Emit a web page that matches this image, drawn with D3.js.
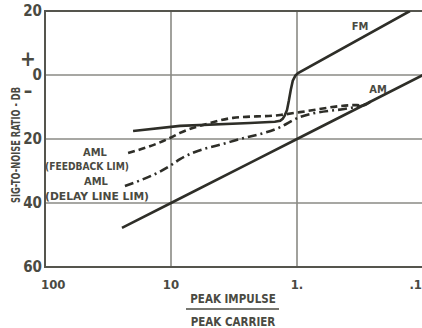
<!DOCTYPE html>
<meta charset="utf-8">
<style>
body { margin: 0; background: #fff; }
text { font-family: "DejaVu Sans Condensed", "Liberation Sans Narrow", sans-serif; font-weight: bold; fill: #4a4a42; }
.grid { stroke: #8a8a84; stroke-width: 1.6px; }
.frame { stroke: #55554e; stroke-width: 2px; fill: none; }
.curve { fill: none; stroke: #2e2e28; stroke-width: 2.6px; }
</style>
<svg width="422" height="328"></svg>
<script src="https://cdn.jsdelivr.net/npm/d3@7"></script>
<script>

// peak impulse / peak carrier (x) vs signal-to-noise dB (y)
var xTicks = [100, 10, 1, 0.1],
    xTickLabels = ["100", "10", "1.", ".1"];
var yTicks = [20, 0, -20, -40, -60],
    yTickLabels = ["20", "0", "20", "40", "60"];

var amRatio = [24.5, 10, 1, 0.1],
    amDb    = [-47.8, -40, -20, 0];

var fmRatio = [20.0, 8.48, 2.36, 1.50, 1.36, 1.30, 1.25, 1.20, 1.16, 1.12, 1.08, 1.03, 0.98, 0.127],
    fmDb    = [-17.5, -15.9, -15.0, -14.6, -14.3, -13.7, -12.6, -10.9, -8.0, -4.6, -1.8, -0.2, 0.6, 20];

var fbRatio = [21.9, 10.2, 8.48, 4.90, 3.22, 1.36, 0.946, 0.334, 0.30, 0.26],
    fbDb    = [-24.4, -19.7, -18.1, -15.0, -13.4, -12.5, -11.6, -9.4, -9.5, -8.3];

var dlRatio = [23.2, 10.2, 8.48, 3.40, 1.36, 0.946, 0.379, 0.30, 0.26],
    dlDb    = [-34.7, -28.4, -26.3, -20.9, -16.3, -13.1, -10.3, -9.5, -8.3];

var svg = d3.select("svg");

var x = d3.scaleLog().domain([100, 0.1]).range([45, 423]),
    y = d3.scaleLinear().domain([20, -60]).range([11, 267]);

svg.append("clipPath").attr("id", "plot")
  .append("rect").attr("x", 45).attr("y", 11).attr("width", 380).attr("height", 256);

// grid
svg.selectAll(".hgrid").data(yTicks.slice(1, 4)).enter().append("line")
    .attr("class", "grid")
    .attr("x1", x(100)).attr("x2", x(0.1))
    .attr("y1", function(d) { return y(d); }).attr("y2", function(d) { return y(d); });

svg.selectAll(".vgrid").data(xTicks.slice(1, 3)).enter().append("line")
    .attr("class", "grid")
    .attr("y1", y(20)).attr("y2", y(-60))
    .attr("x1", function(d) { return x(d); }).attr("x2", function(d) { return x(d); });

svg.append("path").attr("class", "frame")
    .attr("d", "M" + x(0.1) + "," + y(20) + "H" + x(100) + "V" + y(-60) + "H" + x(0.1));

// ticks
svg.selectAll(".ylab").data(yTicks).enter().append("text")
    .attr("x", 42).attr("y", function(d) { return y(d) + 5; })
    .attr("text-anchor", "end").style("font-size", "15px")
    .text(function(d, i) { return yTickLabels[i]; });

svg.selectAll(".xlab").data(xTicks).enter().append("text")
    .attr("x", function(d, i) { return i == 0 ? 41 : i == 3 ? 422 : x(d); })
    .attr("y", 289)
    .attr("text-anchor", function(d, i) { return i == 0 ? "start" : i == 3 ? "end" : "middle"; })
    .style("font-size", "13px")
    .text(function(d, i) { return xTickLabels[i]; });

svg.append("text").attr("x", 28).attr("y", 66).attr("text-anchor", "middle")
    .style("font-size", "21px").text("+");
svg.append("text").attr("x", 28).attr("y", 97).attr("text-anchor", "middle")
    .style("font-size", "19px").text("\u2013");

svg.append("text")
    .attr("transform", "translate(20,145) rotate(-90)")
    .attr("text-anchor", "middle").style("font-size", "12px")
    .attr("textLength", 116).attr("lengthAdjust", "spacingAndGlyphs")
    .text("SIG-TO-NOISE RATIO - DB");

svg.append("text").attr("x", 233).attr("y", 303).attr("text-anchor", "middle")
    .style("font-size", "11.5px").text("PEAK IMPULSE");
svg.append("line").attr("x1", 186).attr("x2", 279).attr("y1", 309).attr("y2", 309)
    .style("stroke", "#4a4a42").style("stroke-width", 1.5);
svg.append("text").attr("x", 233).attr("y", 326).attr("text-anchor", "middle")
    .style("font-size", "11.5px").text("PEAK CARRIER");

// curves
var line = d3.line()
    .x(function(d) { return x(d[0]); })
    .y(function(d) { return y(d[1]); })
    .curve(d3.curveMonotoneX);

function pts(r, v) { return r.map(function(d, i) { return [d, v[i]]; }); }

var g = svg.append("g").attr("clip-path", "url(#plot)");

g.append("path").attr("class", "curve").attr("d", line(pts(amRatio, amDb)));
g.append("path").attr("class", "curve")
    .attr("d", line.curve(d3.curveLinear)(pts(fmRatio, fmDb)));
line.curve(d3.curveMonotoneX);
g.append("path").attr("class", "curve").style("stroke-dasharray", "7,4")
    .attr("d", line(pts(fbRatio, fbDb)));
g.append("path").attr("class", "curve").style("stroke-dasharray", "9,4,2,4")
    .attr("d", line(pts(dlRatio, dlDb)));

// curve labels
svg.append("text").attr("x", 360).attr("y", 30).attr("text-anchor", "middle")
    .style("font-size", "11px").text("FM");
svg.append("text").attr("x", 378).attr("y", 93).attr("text-anchor", "middle")
    .style("font-size", "11px").text("AM");

var aml = [["AML", 95, 156, 0], ["(FEEDBACK LIM)", 87, 170, 84], ["AML", 96, 185, 0], ["(DELAY LINE LIM)", 97, 200, 104]];
svg.selectAll(".aml").data(aml).enter().append("text")
    .attr("x", function(d) { return d[1]; }).attr("y", function(d) { return d[2]; })
    .attr("text-anchor", "middle").style("font-size", "11px")
    .each(function(d) {
      if (d[3]) d3.select(this).attr("textLength", d[3]).attr("lengthAdjust", "spacingAndGlyphs");
    })
    .text(function(d) { return d[0]; });

</script>
